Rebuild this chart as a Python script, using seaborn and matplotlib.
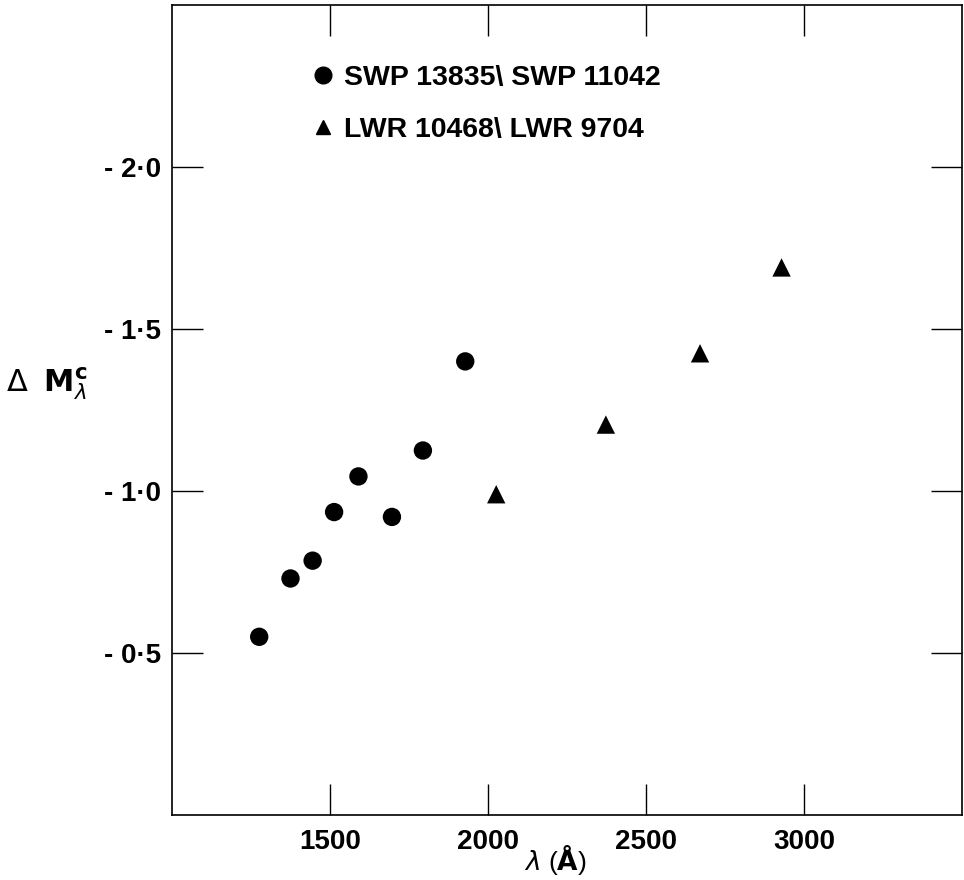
import matplotlib
matplotlib.use("Agg")
import matplotlib.pyplot as plt
from matplotlib.lines import Line2D
from matplotlib.ticker import FixedLocator, FuncFormatter
import seaborn as sns
import pandas as pd

# ---- data ----
swp_label = "SWP 13835\\ SWP 11042"
lwr_label = "LWR 10468\\ LWR 9704"
swp_wavelength = [1276, 1375, 1445, 1513, 1590, 1696, 1794, 1928]
swp_delta_m = [-0.55, -0.73, -0.785, -0.935, -1.045, -0.92, -1.125, -1.40]
lwr_wavelength = [2026, 2373, 2671, 2929]
lwr_delta_m = [-0.99, -1.205, -1.425, -1.69]

x_ticks = [1500, 2000, 2500, 3000]
y_ticks = [-2.0, -1.5, -1.0, -0.5]

df = pd.DataFrame({
    "wl": swp_wavelength + lwr_wavelength,
    "dm": swp_delta_m + lwr_delta_m,
    "series": [swp_label] * len(swp_wavelength) + [lwr_label] * len(lwr_wavelength),
})

sns.set_style("ticks")
plt.rcParams["font.family"] = ["Liberation Sans", "DejaVu Sans"]
plt.rcParams["mathtext.fontset"] = "dejavusans"
plt.rcParams["text.color"] = "black"
plt.rcParams["axes.labelcolor"] = "black"
plt.rcParams["xtick.color"] = "black"
plt.rcParams["ytick.color"] = "black"
plt.rcParams["xtick.labelcolor"] = "black"
plt.rcParams["ytick.labelcolor"] = "black"

fig = plt.figure(figsize=(9.64, 8.8), dpi=100)
ax = fig.add_axes([172 / 964, 65 / 880, 790 / 964, 810 / 880])

sns.scatterplot(data=df, x="wl", y="dm", style="series",
                markers={swp_label: "o", lwr_label: "^"},
                color="black", edgecolor="black", linewidth=0,
                s=175, legend=False, ax=ax)

ax.set_xlim(1000, 3500)
ax.set_ylim(0, -2.5)

ax.xaxis.set_major_locator(FixedLocator(x_ticks))
ax.yaxis.set_major_locator(FixedLocator(y_ticks))
ax.yaxis.set_major_formatter(FuncFormatter(lambda v, p: "- " + f"{abs(v):.1f}".replace(".", "\u00b7")))
ax.tick_params(axis="both", which="major", direction="in", length=22, width=1.0,
               top=True, right=True, colors="black", labelcolor="black")
ax.tick_params(axis="x", labelsize=20, pad=10)
ax.tick_params(axis="y", labelsize=20, pad=8)
for lab in ax.get_xticklabels() + ax.get_yticklabels():
    lab.set_fontweight("bold")

for sp in ax.spines.values():
    sp.set_visible(True)
    sp.set_linewidth(1.2)
    sp.set_color("black")

ax.set_xlabel(r"$\lambda$ ($\mathbf{Å}$)", fontsize=19, fontweight="normal", color="black")
ax.xaxis.set_label_coords(0.485, -0.034)
ax.set_ylabel(r"$\Delta$  $\mathbf{M}_{\lambda}^{\mathbf{c}}$", fontsize=22, rotation=0,
              fontweight="normal", color="black")
ax.yaxis.set_label_coords(-0.158, 0.51)

handles = [
    Line2D([], [], linestyle="none", marker="o", color="black", markersize=12),
    Line2D([], [], linestyle="none", marker="^", color="black", markersize=10),
]
leg = ax.legend(handles, [swp_label, lwr_label], loc="upper left",
                bbox_to_anchor=(0.1767, 0.926), frameon=False, fontsize=20.5,
                handlelength=0.8, handletextpad=0.35, labelspacing=0.9,
                borderaxespad=0, borderpad=0, labelcolor="black")
for t in leg.get_texts():
    t.set_fontweight("bold")

fig.savefig("out.png", dpi=100)
